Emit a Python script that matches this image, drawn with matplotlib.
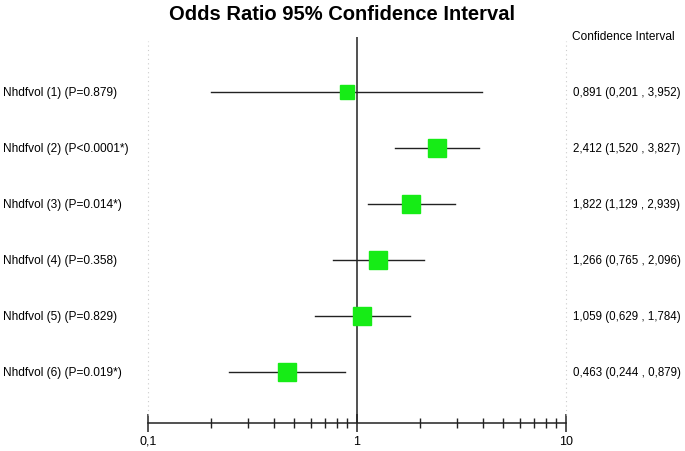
import matplotlib.pyplot as plt
import matplotlib.transforms as mtrans
from matplotlib.ticker import LogLocator, NullFormatter, FixedFormatter, FixedLocator

plt.rcParams['font.family'] = ['Liberation Sans', 'DejaVu Sans']

# data
labels = ["Nhdfvol (1) (P=0.879)", "Nhdfvol (2) (P<0.0001*)", "Nhdfvol (3) (P=0.014*)",
          "Nhdfvol (4) (P=0.358)", "Nhdfvol (5) (P=0.829)", "Nhdfvol (6) (P=0.019*)"]
odds = [0.891, 2.412, 1.822, 1.266, 1.059, 0.463]
lower = [0.201, 1.520, 1.129, 0.765, 0.629, 0.244]
upper = [3.952, 3.827, 2.939, 2.096, 1.784, 0.879]
box_size = [10, 13, 13, 12.5, 13, 13]  # marker size (weight)
ci_text = ["0,891 (0,201 , 3,952)", "2,412 (1,520 , 3,827)", "1,822 (1,129 , 2,939)",
           "1,266 (0,765 , 2,096)", "1,059 (0,629 , 1,784)", "0,463 (0,244 , 0,879)"]

fig = plt.figure(figsize=(6.85, 4.52), dpi=100)
W, H = 685, 452
ax = fig.add_axes([148 / W, 1 - 424 / H, (566 - 148) / W, (424 - 38) / H])

ys = list(range(1, len(odds) + 1))
ax.set_xscale('log')
ax.set_xlim(0.1, 10)
ax.set_ylim(1 + (424 - 93) / 56, 1 + (38 - 93) / 56)

# reference lines
ax.axvline(1, color='#222222', lw=1.1, zorder=2)
ax.axvline(0.1, ymin=0.02, ymax=0.99, color='#cccccc', lw=0.8, ls=(0, (1, 3)), clip_on=False)
ax.axvline(10, ymin=0.02, ymax=0.99, color='#cccccc', lw=0.8, ls=(0, (1, 3)), clip_on=False)

for y, o, lo, hi, s in zip(ys, odds, lower, upper, box_size):
    ax.plot([lo, hi], [y, y], color='#222222', lw=1.0, zorder=3)
    ax.plot(o, y, marker='s', ms=s, color='#16ec16', mec='#16ec16', zorder=4)

# row labels (left) and CI text (right)
blend = mtrans.blended_transform_factory(fig.transFigure, ax.transData)
for y, lab, ci in zip(ys, labels, ci_text):
    ax.text(3 / W, y, lab, transform=blend, fontsize=8.6, va='center', ha='left',
            clip_on=False)
    ax.text(573 / W, y, ci, transform=blend, fontsize=8.3, va='center', ha='left',
            clip_on=False)

fig.text(572 / W, 1 - 37 / H, "Confidence Interval", fontsize=8.6, va='center', ha='left')
fig.text(342 / W, 1 - 15 / H, "Odds Ratio 95% Confidence Interval", fontsize=14.5,
         fontweight='bold', va='center', ha='center')

for side in ['top', 'left', 'right']:
    ax.spines[side].set_visible(False)
ax.spines['bottom'].set_color('#222222')
ax.spines['bottom'].set_linewidth(1.1)
ax.set_yticks([])
ax.xaxis.set_major_locator(FixedLocator([0.1, 1, 10]))
ax.xaxis.set_major_formatter(FixedFormatter(["0,1", "1", "10"]))
ax.xaxis.set_minor_locator(LogLocator(base=10, subs=range(2, 10)))
ax.xaxis.set_minor_formatter(NullFormatter())
ax.tick_params(axis='x', which='major', direction='inout', length=13, width=1.1,
               color='#222222', labelsize=9, pad=2)
ax.tick_params(axis='x', which='minor', direction='inout', length=7, width=1.0,
               color='#222222')

fig.savefig('out.png', dpi=100)
